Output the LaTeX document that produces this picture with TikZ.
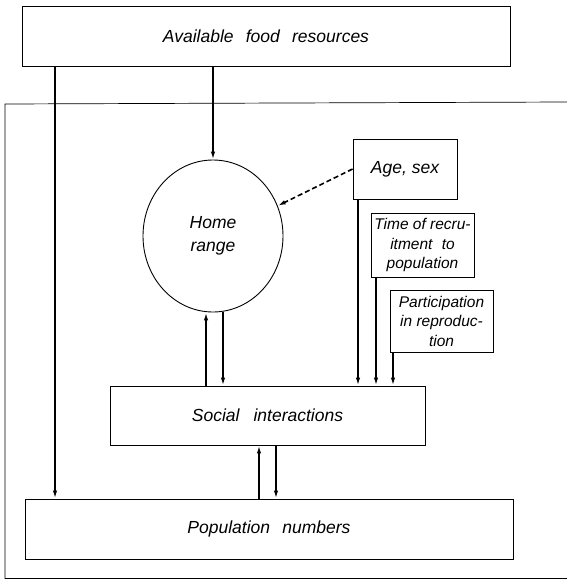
\documentclass[tikz,border=0pt]{standalone}
\usepackage{fontspec}
\setmainfont{Liberation Sans}
\usetikzlibrary{arrows.meta,shapes.geometric}
\begin{document}
\begin{tikzpicture}[x=1pt,y=-1pt,
  box/.style={draw, line width=0.9pt, inner sep=0pt, align=center,
    font=\fontsize{17.5}{23}\selectfont\itshape},
  small/.style={box, font=\fontsize{15.5}{19.5}\selectfont\itshape},
  arr/.style={line width=1.6pt, -{Latex[length=8pt,width=4.5pt]}},
  frame/.style={line width=0.7pt}]
\useasboundingbox (0,0) rectangle (567,579);
% outer frame
\draw[frame] (567,102) -- (5,104) -- (5,579);
\draw[frame] (5,578) -- (567,578);
% nodes
\node[box, minimum width=488pt, minimum height=60pt] (food) at (266,36) {Available\hspace{0.7em}food\hspace{0.7em}resources};
\node[box, minimum width=488pt, minimum height=60pt] (pop) at (269,529) {Population\hspace{0.7em}numbers};
\node[box, minimum width=315pt, minimum height=59pt] (social) at (267.5,415.5) {Social\hspace{0.8em}interactions};
\node[draw, line width=0.9pt, ellipse, minimum width=140pt, minimum height=152pt, inner sep=0pt, align=center,
  font=\fontsize{17.5}{23}\selectfont\itshape] (home) at (213,236) {Home\\range};
\node[box, minimum width=104pt, minimum height=60pt] (age) at (405,169) {Age, sex};
\node[small, minimum width=103pt, minimum height=64pt] (time) at (422.5,245) {Time of recru-\\itment\hspace{0.6em}to\\population};
\node[small, minimum width=103pt, minimum height=62pt] (part) at (441.5,321) {Participation\\in reproduc-\\tion};
% helper x positions
\coordinate (xL) at (55,0);
\coordinate (xA) at (358,0);
\coordinate (xT) at (376,0);
\coordinate (xP) at (393,0);
\coordinate (xHu) at (206,0);
\coordinate (xHd) at (223,0);
\coordinate (xSu) at (259,0);
\coordinate (xSd) at (276,0);
% connectors
\draw[arr] (food.south -| xL) -- (pop.north -| xL);
\draw[arr] (food.south -| home.north) -- (home.north);
\draw[arr, dash pattern=on 5pt off 3pt] (age.west) -- (home.25);
\draw[arr] (age.south -| xA) -- (social.north -| xA);
\draw[arr] (time.south -| xT) -- (social.north -| xT);
\draw[arr] (part.south -| xP) -- (social.north -| xP);
\draw[arr] (social.north -| xHu) -- (home.south -| xHu);
\draw[arr] (home.south -| xHd) -- (social.north -| xHd);
\draw[arr] (pop.north -| xSu) -- (social.south -| xSu);
\draw[arr] (social.south -| xSd) -- (pop.north -| xSd);
\end{tikzpicture}
\end{document}
